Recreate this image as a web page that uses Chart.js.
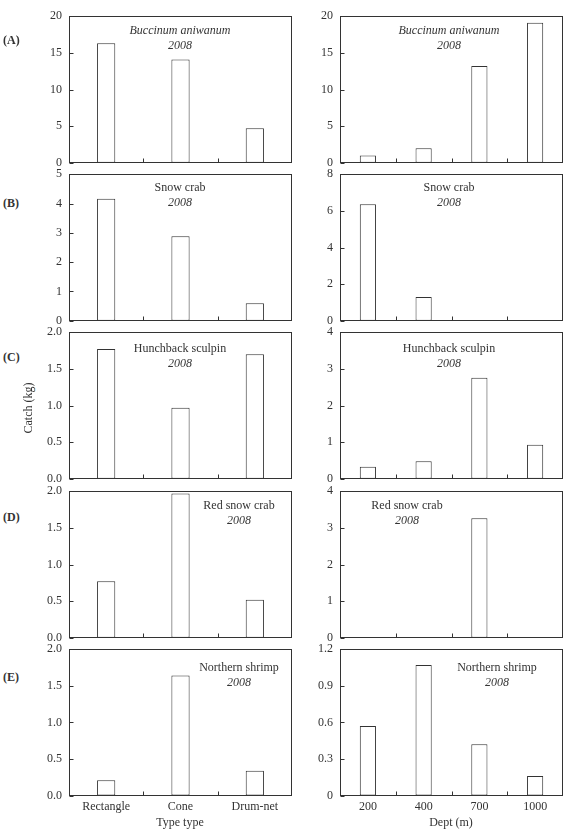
<!DOCTYPE html>
<html>
<head>
<meta charset="utf-8">
<script src="https://cdn.jsdelivr.net/npm/chart.js@4"></script>
<style>
  body { margin: 0; background: #fff; }
  #wrap { position: relative; width: 568px; height: 834px; font-family: "Liberation Serif", "Times New Roman", serif; color: #333; }
  canvas { position: absolute; }
  .txt { position: absolute; font-size: 12px; line-height: 15px; white-space: nowrap; }
  .note { text-align: center; transform: translateX(-50%); }
  .lab { font-weight: bold; }
</style>
</head>
<body>
<div id="wrap"></div>
<script>
// categories
const typeCategories = ["Rectangle", "Cone", "Drum-net"];
const depthCategories = ["200", "400", "700", "1000"];

// catch (kg) by trap type
const typeBuccinum = [16.3, 14.1, 4.7];
const typeSnowCrab = [4.16, 2.88, 0.6];
const typeSculpin = [1.77, 0.97, 1.70];
const typeRedCrab = [0.77, 1.97, 0.52];
const typeShrimp = [0.21, 1.64, 0.34];

// catch (kg) by depth
const depthBuccinum = [1.0, 2.0, 13.2, 19.1];
const depthSnowCrab = [6.36, 1.3, 0, 0];
const depthSculpin = [0.33, 0.48, 2.76, 0.93];
const depthRedCrab = [0, 0, 3.26, 0];
const depthShrimp = [0.57, 1.07, 0.42, 0.16];

// y tick labels
const ticksBuccinum = ["0", "5", "10", "15", "20"];
const ticksSnowCrabType = ["0", "1", "2", "3", "4", "5"];
const ticksSnowCrabDepth = ["0", "2", "4", "6", "8"];
const ticksOneDecimal = ["0.0", "0.5", "1.0", "1.5", "2.0"];
const ticksWhole4 = ["0", "1", "2", "3", "4"];
const ticksShrimpDepth = ["0", "0.3", "0.6", "0.9", "1.2"];

const FONT = "'Liberation Serif', 'Times New Roman', serif";
const INK = "#333";

const colLeft = [69, 340];
const rowTop = [16, 174, 332, 491, 649];
const plotW = 223, plotH = 147;

const panels = [
  { row: 0, col: 0, labels: typeCategories, values: typeBuccinum, yt: ticksBuccinum, max: 20, step: 5, name: "Buccinum aniwanum", italic: true, nx: 180, ny: 30 },
  { row: 0, col: 1, labels: depthCategories, values: depthBuccinum, yt: ticksBuccinum, max: 20, step: 5, name: "Buccinum aniwanum", italic: true, nx: 449, ny: 30 },
  { row: 1, col: 0, labels: typeCategories, values: typeSnowCrab, yt: ticksSnowCrabType, max: 5, step: 1, name: "Snow crab", nx: 180, ny: 187 },
  { row: 1, col: 1, labels: depthCategories, values: depthSnowCrab, yt: ticksSnowCrabDepth, max: 8, step: 2, name: "Snow crab", nx: 449, ny: 187 },
  { row: 2, col: 0, labels: typeCategories, values: typeSculpin, yt: ticksOneDecimal, max: 2, step: 0.5, name: "Hunchback sculpin", nx: 180, ny: 348 },
  { row: 2, col: 1, labels: depthCategories, values: depthSculpin, yt: ticksWhole4, max: 4, step: 1, name: "Hunchback sculpin", nx: 449, ny: 348 },
  { row: 3, col: 0, labels: typeCategories, values: typeRedCrab, yt: ticksOneDecimal, max: 2, step: 0.5, name: "Red snow crab", nx: 239, ny: 505 },
  { row: 3, col: 1, labels: depthCategories, values: depthRedCrab, yt: ticksWhole4, max: 4, step: 1, name: "Red snow crab", nx: 407, ny: 505 },
  { row: 4, col: 0, labels: typeCategories, values: typeShrimp, yt: ticksOneDecimal, max: 2, step: 0.5, name: "Northern shrimp", nx: 239, ny: 667 },
  { row: 4, col: 1, labels: depthCategories, values: depthShrimp, yt: ticksShrimpDepth, max: 1.2, step: 0.3, name: "Northern shrimp", nx: 497, ny: 667 },
];

const wrap = document.getElementById("wrap");

function addText(cls, html, left, top, extra) {
  const d = document.createElement("div");
  d.className = "txt " + cls;
  d.innerHTML = html;
  d.style.left = left + "px";
  d.style.top = top + "px";
  if (extra) Object.assign(d.style, extra);
  wrap.appendChild(d);
  return d;
}

// box around plot plus inward ticks
const frame = {
  id: "frame",
  afterDraw(chart) {
    const { ctx, chartArea: a, scales } = chart;
    ctx.save();
    ctx.strokeStyle = INK;
    ctx.lineWidth = 1;
    const l = Math.round(a.left) + 0.5, t = Math.round(a.top) + 0.5;
    const r = Math.round(a.right) - 0.5, b = Math.round(a.bottom) - 0.5;
    ctx.strokeRect(l, t, r - l, b - t);
    ctx.beginPath();
    scales.y.ticks.forEach(tk => {
      const y = Math.round(scales.y.getPixelForValue(tk.value)) + 0.5;
      ctx.moveTo(l, y); ctx.lineTo(l + 4, y);
    });
    const n = chart.data.labels.length;
    for (let i = 0; i < n - 1; i++) {
      const x = Math.round((scales.x.getPixelForValue(i) + scales.x.getPixelForValue(i + 1)) / 2) + 0.5;
      ctx.moveTo(x, b); ctx.lineTo(x, b - 4);
    }
    ctx.stroke();
    ctx.restore();
  }
};

function makeChart(p, w, h, left, top) {
  const bottomRow = p.row === 4;
  const cv = document.createElement("canvas");
  cv.width = w; cv.height = h;
  cv.style.left = left + "px";
  cv.style.top = top + "px";
  cv.style.width = w + "px"; cv.style.height = h + "px";
  wrap.appendChild(cv);
  const fracBar = p.labels.length === 3 ? 0.245 : 0.29;
  const chart = new Chart(cv, {
    type: "bar",
    data: {
      labels: p.labels,
      datasets: [{
        data: p.values,
        backgroundColor: "#fff",
        borderColor: INK,
        borderWidth: 1,
        borderSkipped: false,
        categoryPercentage: 1,
        barPercentage: fracBar,
      }],
    },
    options: {
      responsive: false,
      maintainAspectRatio: false,
      animation: false,
      devicePixelRatio: 1,
      layout: { padding: 1 },
      plugins: { legend: { display: false }, tooltip: { enabled: false } },
      scales: {
        x: {
          grid: { display: false, drawTicks: false },
          border: { display: false },
          ticks: { display: bottomRow, color: INK, padding: 4, font: { family: FONT, size: 12 }, maxRotation: 0, autoSkip: false },
        },
        y: {
          min: 0,
          max: p.max,
          grid: { display: false, drawTicks: false },
          border: { display: false },
          ticks: {
            stepSize: p.step,
            padding: 7,
            color: INK,
            font: { family: FONT, size: 12 },
            callback: v => {
              const m = p.yt.find(s => Math.abs(parseFloat(s) - v) < 1e-6);
              return m === undefined ? "" : m;
            },
          },
        },
      },
    },
    plugins: [frame],
  });
  return { chart, cv };
}

panels.forEach(p => {
  // first pass: measure where the library puts the plot area
  const w0 = 320, h0 = 220;
  const probe = makeChart(p, w0, h0, 0, 0);
  const a = probe.chart.chartArea;
  const offL = Math.round(a.left), offT = Math.round(a.top);
  const offR = w0 - Math.round(a.right), offB = h0 - Math.round(a.bottom);
  probe.chart.destroy();
  probe.cv.remove();
  // second pass: size the canvas so the plot area lands on the grid
  makeChart(p, offL + plotW + offR, offT + plotH + offB, colLeft[p.col] - offL, rowTop[p.row] - offT);

  const nameHtml = p.italic ? "<i>" + p.name + "</i>" : p.name;
  addText("note", nameHtml + "<br><i>2008</i>", p.nx, p.ny - 7.5);
});

// panel letters
["(A)", "(B)", "(C)", "(D)", "(E)"].forEach((t, i) => {
  const ys = [40, 203, 357, 517, 677];
  addText("lab", t, 3, ys[i] - 7.5);
});

// axis titles
addText("note", "Type type", 180, 815);
addText("note", "Dept (m)", 451, 815);
addText("", "Catch (kg)", 28, 408, { transform: "translate(-50%, -50%) rotate(-90deg)" });
</script>
</body>
</html>
